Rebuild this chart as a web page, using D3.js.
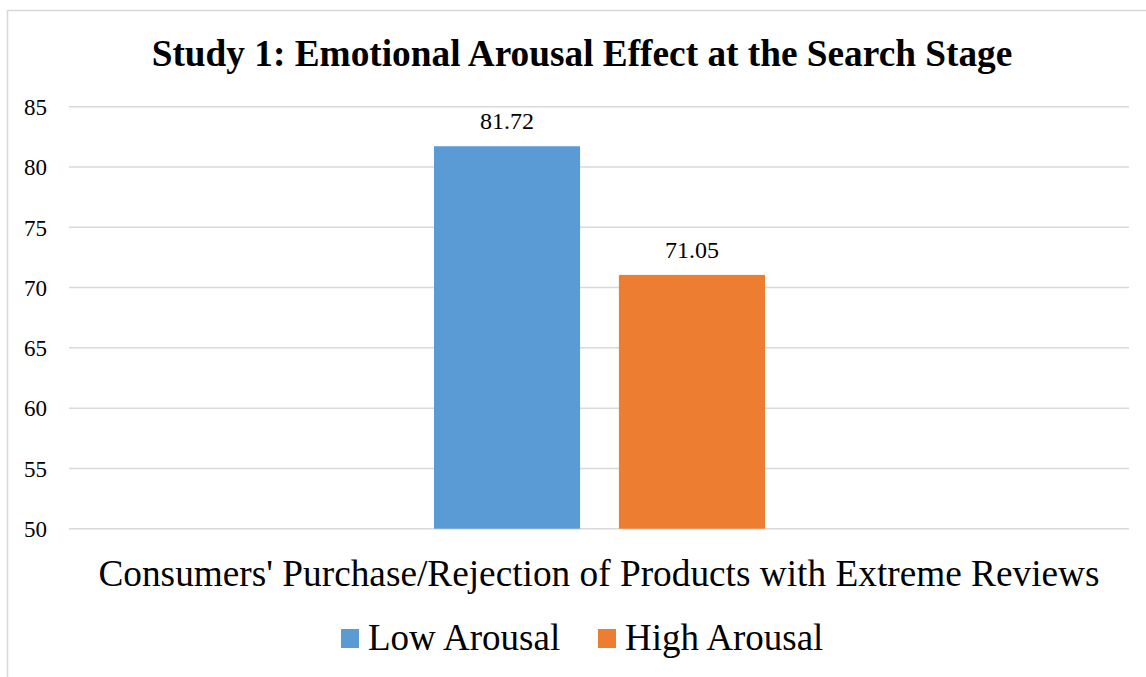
<!DOCTYPE html>
<html>
<head>
<meta charset="utf-8">
<script src="https://cdn.jsdelivr.net/npm/d3@7"></script>
<style>
  body { margin: 0; background: #fff; }
  svg { display: block; }
</style>
</head>
<body>
<div id="chart"></div>
<script>
// chart values
const categories = ["Consumers' Purchase/Rejection of Products with Extreme Reviews"];
const seriesNames = ['Low Arousal', 'High Arousal'];
const seriesValues = [81.72, 71.05];
const yTicks = [50, 55, 60, 65, 70, 75, 80, 85];
const colors = ['#5b9bd5', '#ed7d31'];

const fontFamily = '"Liberation Serif", "Times New Roman", serif',
    gridColor = '#d9d9d9';

const width = 1146,
    height = 677;

const margin = { top: 106.7, right: 17, bottom: 148.3, left: 69 };
const chartWidth = width - margin.left - margin.right;
const chartHeight = height - margin.top - margin.bottom;

const svg = d3.select('#chart')
    .append('svg')
    .attr('width', width)
    .attr('height', height)
    .style('background-color', '#fff');

// outer chart border (cropped at right and bottom)
svg.append('path')
    .attr('d', 'M7.5,' + height + ' V10.5 H' + width)
    .attr('fill', 'none')
    .attr('stroke', gridColor)
    .attr('stroke-width', 1.5);

// title
svg.append('text')
    .attr('x', 582)
    .attr('y', 66)
    .attr('text-anchor', 'middle')
    .style('font-family', fontFamily)
    .style('font-weight', 'bold')
    .style('font-size', '37.3px')
    .text('Study 1: Emotional Arousal Effect at the Search Stage');

const g = svg.append('g')
    .attr('transform', 'translate(' + margin.left + ',' + margin.top + ')');

// scales
const x0 = d3.scaleBand()
    .domain(categories)
    .range([0, chartWidth]);

const x1 = d3.scaleBand()
    .domain(seriesNames)
    .range([365, 696])
    .paddingInner(0.21);

const y = d3.scaleLinear()
    .domain([50, 85])
    .range([chartHeight, 0]);

// gridlines
g.append('g')
    .selectAll('line')
    .data(yTicks)
    .enter()
    .append('line')
    .attr('x1', 0)
    .attr('x2', chartWidth)
    .attr('y1', d => y(d))
    .attr('y2', d => y(d))
    .attr('stroke', gridColor)
    .attr('stroke-width', 1.5);

// y axis labels
const yAxis = g.append('g')
    .call(d3.axisLeft(y).tickValues(yTicks).tickSize(0).tickPadding(22))
    .style('font-family', fontFamily)
    .style('font-size', '23px');
yAxis.select('.domain').remove();
yAxis.selectAll('text').attr('fill', '#000').attr('dy', '0.34em');

// bars
const bars = seriesNames.map((name, i) => ({ name, value: seriesValues[i], color: colors[i] }));

g.selectAll('rect.bar')
    .data(bars)
    .enter()
    .append('rect')
    .attr('class', 'bar')
    .attr('x', d => x0(categories[0]) + x1(d.name))
    .attr('y', d => y(d.value))
    .attr('width', x1.bandwidth())
    .attr('height', d => chartHeight - y(d.value))
    .attr('fill', d => d.color);

// value labels
g.selectAll('text.val')
    .data(bars)
    .enter()
    .append('text')
    .attr('class', 'val')
    .attr('x', d => x0(categories[0]) + x1(d.name) + x1.bandwidth() / 2)
    .attr('y', d => y(d.value) - 17)
    .attr('text-anchor', 'middle')
    .style('font-family', fontFamily)
    .style('font-size', '24px')
    .text(d => d.value.toFixed(2));

// category axis label
g.append('text')
    .attr('x', x0(categories[0]) + x0.bandwidth() / 2)
    .attr('y', chartHeight + 57)
    .attr('text-anchor', 'middle')
    .style('font-family', fontFamily)
    .style('font-size', '37.3px')
    .text(categories[0]);

// legend
const legendX = [341, 598];
const legend = svg.append('g')
    .selectAll('g')
    .data(bars)
    .enter()
    .append('g')
    .attr('transform', (d, i) => 'translate(' + legendX[i] + ',629)');

legend.append('rect')
    .attr('width', 18)
    .attr('height', 19)
    .attr('fill', d => d.color);

legend.append('text')
    .attr('x', 27)
    .attr('y', 21)
    .style('font-family', fontFamily)
    .style('font-size', '37px')
    .text(d => d.name);
</script>
</body>
</html>
